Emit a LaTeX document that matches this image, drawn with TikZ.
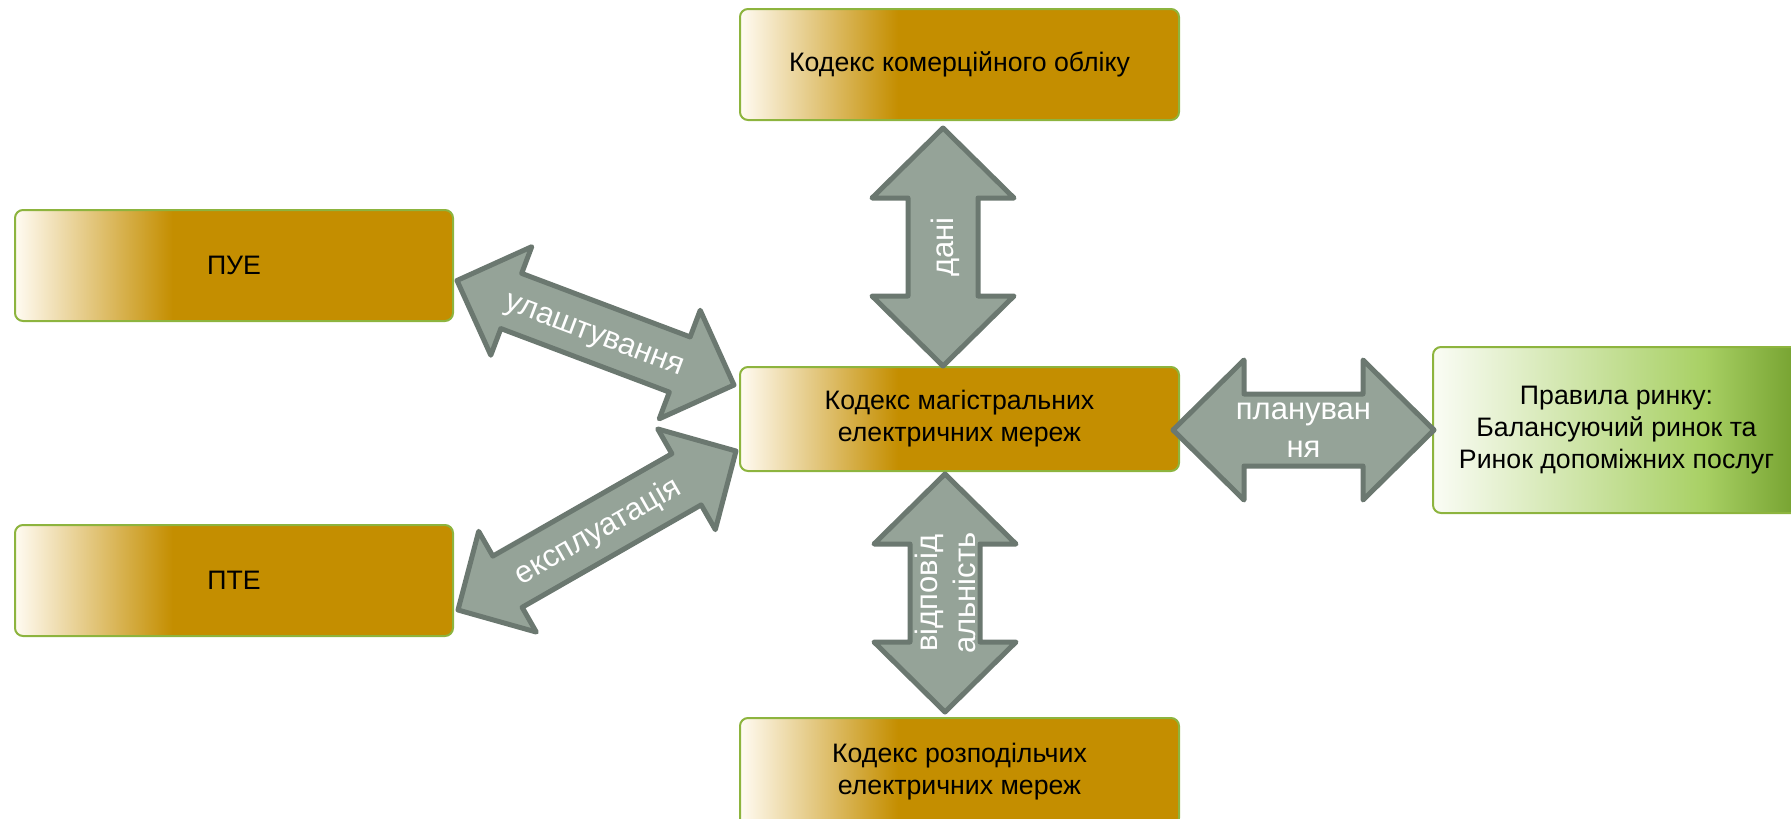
\documentclass[tikz,border=0pt]{standalone}
\usepackage{fontspec}
\setmainfont{Liberation Sans}
\usetikzlibrary{calc}
\definecolor{boxgold}{RGB}{196,142,0}
\definecolor{boxpale}{RGB}{255,251,242}
\definecolor{boxline}{RGB}{141,180,62}
\definecolor{mktpale}{RGB}{250,252,245}
\definecolor{mktmid}{RGB}{168,208,100}
\definecolor{mktdark}{RGB}{116,160,46}
\definecolor{arrfill}{RGB}{149,163,152}
\definecolor{arrline}{RGB}{107,120,112}
\pgfdeclarehorizontalshading{goldfade}{100bp}{color(0bp)=(boxpale); color(25bp)=(boxpale); color(43bp)=(boxgold); color(100bp)=(boxgold)}
\pgfdeclarehorizontalshading{greenfade}{100bp}{color(0bp)=(mktpale); color(25bp)=(mktpale); color(62bp)=(mktmid); color(75bp)=(mktdark); color(100bp)=(mktdark)}
\begin{document}
\begin{tikzpicture}[x=1pt,y=-1pt,
    codebox/.style={draw=boxline,line width=2pt,rounded corners=8pt,shade,shading=goldfade,
      minimum width=439pt,inner sep=0pt,align=center,font=\fontsize{26.7}{32}\selectfont},
    rulesbox/.style={codebox,shading=greenfade},
    arrowlabel/.style={text=white,align=center,inner sep=0pt,sloped,allow upside down,
      font=\fontsize{31}{38}\selectfont},
    oneline/.style={text height=29pt,text depth=9pt},
    twoline/.style={}]
    \clip[use as bounding box] (0,0) rectangle (1791,819);
    \node[codebox,minimum height=111pt] (obl) at (959.5,64.5) {Кодекс комерційного обліку};
    \node[codebox,minimum height=104pt] (mag) at (959.5,419) {Кодекс магістральних\\електричних мереж};
    \node[codebox,minimum height=108pt] (roz) at (959.5,772) {Кодекс розподільчих\\електричних мереж};
    \node[codebox,minimum width=438pt,minimum height=111pt] (pue) at (234,265.5) {ПУЕ};
    \node[codebox,minimum width=438pt,minimum height=111pt] (pte) at (234,580.5) {ПТЕ};
    \node[rulesbox,minimum width=367pt,minimum height=166pt] (rules) at (1616.5,430) {Правила ринку:\\Балансуючий ринок та\\Ринок допоміжних послуг};
    \coordinate (dA) at ($(mag.north)+(-16.5,0)$);
    \coordinate (dB) at ($(obl.south)+(-16.5,7)$);
    \coordinate (vA) at ($(roz.north)+(-14.5,-5)$);
    \coordinate (vB) at ($(mag.south)+(-14.5,2)$);
    \coordinate (pA) at ($(mag.east)+(-7,11)$);
    \coordinate (pB) at ($(rules.west)+(2,0)$);
    \coordinate (uA) at ($(pue.east)+(3,15)$);
    \coordinate (uB) at ($(mag.west)+(-5,-34)$);
    \coordinate (eA) at ($(pte.east)+(4,29.5)$);
    \coordinate (eB) at ($(mag.west)+(-3,32)$);
    \foreach \a/\b/\hl/\hw/\sw/\lbl/\txt in {dA/dB/70/71/35/oneline/{дані},
        vA/vB/70/71/35/twoline/{відповід\\альність},
        pA/pB/71/70/36/twoline/{плануван\\ня},
        uA/uB/58/58/29.5/oneline/{улаштування},
        eA/eB/57/58/29.5/oneline/{експлуатація}}{
        \draw[arrline,fill=arrfill,line width=5pt,line join=round]
            (\a) -- ($(\a)!\hl pt!(\b)!\hw pt!90:(\b)$) -- ($(\a)!\hl pt!(\b)!\sw pt!90:(\b)$)
            -- ($(\b)!\hl pt!(\a)!\sw pt!-90:(\a)$) -- ($(\b)!\hl pt!(\a)!\hw pt!-90:(\a)$)
            -- (\b) -- ($(\b)!\hl pt!(\a)!\hw pt!90:(\a)$) -- ($(\b)!\hl pt!(\a)!\sw pt!90:(\a)$)
            -- ($(\a)!\hl pt!(\b)!\sw pt!-90:(\b)$) -- ($(\a)!\hl pt!(\b)!\hw pt!-90:(\b)$) -- cycle;
        \path (\a) -- node[arrowlabel,\lbl] {\txt} (\b);
    }
\end{tikzpicture}
\end{document}
